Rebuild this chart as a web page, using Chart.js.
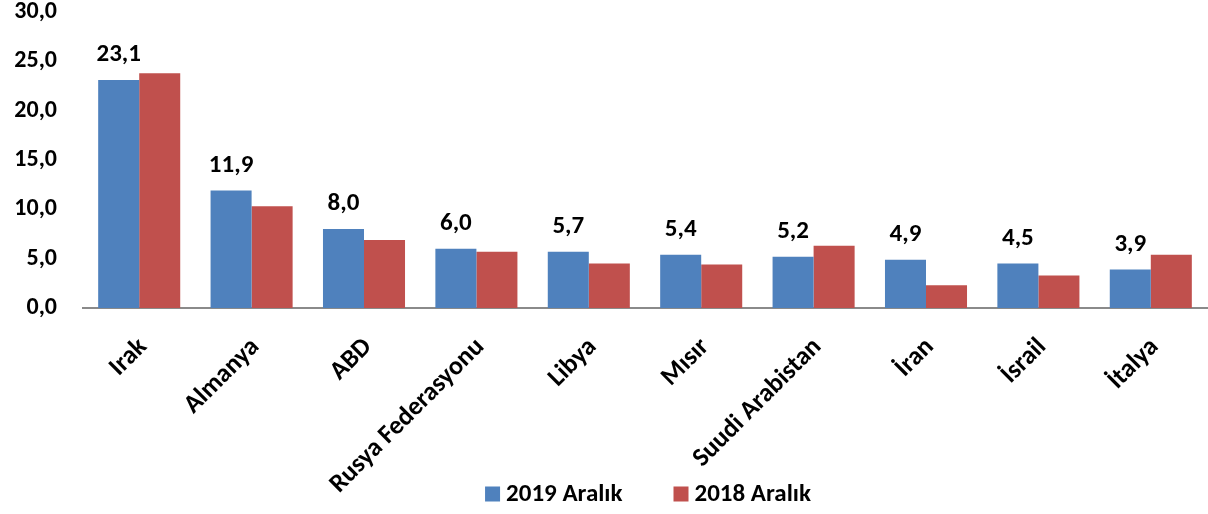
<!DOCTYPE html>
<html>
<head>
<meta charset="utf-8">
<script src="https://cdn.jsdelivr.net/npm/chart.js@4.4.1/dist/chart.umd.min.js"></script>
<style>
  html, body { margin: 0; padding: 0; background: #fff; }
  #wrap { width: 1208px; height: 514px; }
</style>
</head>
<body>
<div id="wrap"><canvas id="c" width="1208" height="514"></canvas></div>
<script>
const categories = ["Irak", "Almanya", "ABD", "Rusya Federasyonu", "Libya", "Mısır", "Suudi Arabistan", "İran", "İsrail", "İtalya"];
const series2019Label = "2019 Aralık";
const series2018Label = "2018 Aralık";
const values2019 = [23.1, 11.9, 8.0, 6.0, 5.7, 5.4, 5.2, 4.9, 4.5, 3.9];
const values2018 = [23.8, 10.3, 6.9, 5.7, 4.5, 4.4, 6.3, 2.3, 3.3, 5.4];
const yTicks = [0, 5, 10, 15, 20, 25, 30];

const FONT = "Carlito, Calibri, Lato, sans-serif";
const fmt = v => v.toFixed(1).replace('.', ',');

const valueLabels = {
  id: 'valueLabels',
  afterDatasetsDraw(chart) {
    const ctx = chart.ctx;
    const meta = chart.getDatasetMeta(0);
    ctx.save();
    ctx.font = "bold 25px " + FONT;
    ctx.fillStyle = "#000";
    ctx.textAlign = "center";
    ctx.textBaseline = "alphabetic";
    meta.data.forEach((bar, i) => {
      ctx.fillText(fmt(values2019[i]), bar.x, bar.y - 19);
    });
    ctx.restore();
  }
};

const bottomLegend = {
  id: 'bottomLegend',
  afterDraw(chart) {
    const ctx = chart.ctx;
    const area = chart.chartArea;
    ctx.save();
    ctx.font = "bold 25px " + FONT;
    ctx.textBaseline = "middle";
    ctx.textAlign = "left";
    const box = 15, gap = 6, between = 51;
    const items = chart.data.datasets.map(d => ({ text: d.label, color: d.backgroundColor, w: ctx.measureText(d.label).width }));
    let total = 0;
    items.forEach((it, i) => { total += box + gap + it.w + (i < items.length - 1 ? between : 0); });
    let x = (area.left + area.right) / 2 + 3 - total / 2;
    const cy = 494;
    items.forEach(it => {
      ctx.fillStyle = it.color;
      ctx.fillRect(x, cy - 7.5, box, 15);
      ctx.fillStyle = "#000";
      ctx.fillText(it.text, x + box + gap, cy + 1);
      x += box + gap + it.w + between;
    });
    ctx.restore();
  }
};

new Chart(document.getElementById('c'), {
  type: 'bar',
  data: {
    labels: categories,
    datasets: [
      { label: series2019Label, data: values2019, backgroundColor: '#4F81BD', borderWidth: 0 },
      { label: series2018Label, data: values2018, backgroundColor: '#C0504D', borderWidth: 0 }
    ]
  },
  options: {
    responsive: false,
    animation: false,
    layout: { padding: { top: 0, right: 1, left: 0, bottom: 0 } },
    datasets: { bar: { barPercentage: 1.0, categoryPercentage: 0.73 } },
    plugins: {
      legend: { display: false },
      tooltip: { enabled: false }
    },
    scales: {
      x: {
        grid: { display: false, drawTicks: false },
        border: { display: true, color: '#8a8a8a', width: 2 },
        ticks: {
          color: '#000',
          font: { family: FONT, size: 26, weight: 'bold' },
          maxRotation: 45, minRotation: 45,
          padding: 24,
          labelOffset: 4,
          autoSkip: false
        },
        afterFit(scale) { scale.height = 206; }
      },
      y: {
        min: 0, max: 30,
        afterBuildTicks(scale) { scale.ticks = yTicks.map(v => ({ value: v })); },
        grid: { display: false, drawTicks: true, tickLength: 26 },
        border: { display: false },
        ticks: {
          color: '#000',
          font: { family: FONT, size: 24, weight: 'bold', lineHeight: 1 },
          padding: 0,
          callback: v => fmt(v)
        },
        afterFit(scale) { scale.width = 83; }
      }
    }
  },
  plugins: [valueLabels, bottomLegend]
});
</script>
</body>
</html>
